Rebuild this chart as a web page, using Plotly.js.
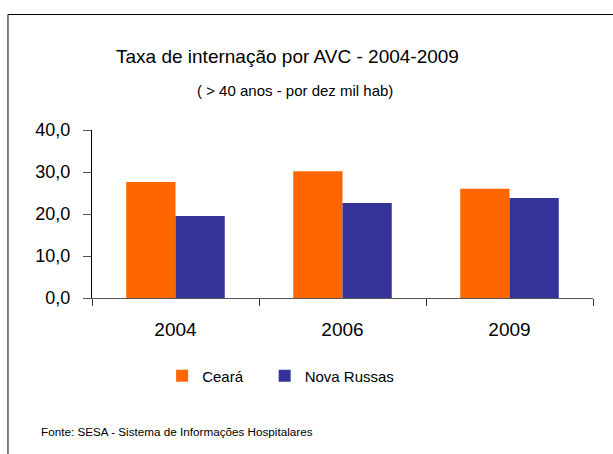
<!DOCTYPE html>
<html>
<head>
<meta charset="utf-8">
<script src="https://cdn.plot.ly/plotly-3.0.1.min.js"></script>
<style>
  body { margin: 0; background: #fff; }
  #grafico { width: 613px; height: 454px; }
</style>
</head>
<body>
<div id="grafico"></div>
<script>
// dados
const anos = ['2004', '2006', '2009'];
const ceara = [27.6, 30.2, 26.0];
const novaRussas = [19.5, 22.6, 23.8];
const series = ['Ceará', 'Nova Russas'];
const cores = ['#FF6600', '#333399'];

const titulo = 'Taxa de internação por AVC - 2004-2009';
const subtitulo = '( > 40 anos - por dez mil hab)';
const fonte = 'Fonte: SESA - Sistema de Informações Hospitalares';

const familia = 'Liberation Sans, Arial, sans-serif';
// espaço extra depois de "Ceará" para afastar a segunda entrada da legenda
const folga = '\u00a0\u00a0\u00a0\u00a0';

const traces = [ceara, novaRussas].map((valores, i) => ({
  type: 'bar',
  x: anos,
  y: valores,
  name: i === 0 ? series[i] + folga : series[i],
  marker: { color: cores[i] }
}));

const layout = {
  width: 613,
  height: 454,
  margin: { l: 92, r: 20, t: 130, b: 156 },
  paper_bgcolor: '#fff',
  plot_bgcolor: '#fff',
  font: { family: familia, color: '#000' },
  separators: ',.',
  bargap: 0.41,
  bargroupgap: 0,
  showlegend: true,
  hovermode: false,
  xaxis: {
    type: 'category',
    showgrid: false,
    showline: true,
    linecolor: '#555',
    linewidth: 1,
    ticks: 'outside',
    tickson: 'boundaries',
    ticklen: 7,
    tickcolor: '#333',
    tickfont: { size: 19, family: familia },
    ticklabelstandoff: 14
  },
  yaxis: {
    range: [0, 40],
    dtick: 10,
    tickformat: '.1f',
    showgrid: false,
    zeroline: false,
    showline: true,
    linecolor: '#000',
    linewidth: 1,
    ticks: 'outside',
    ticklen: 8,
    tickcolor: '#555',
    tickfont: { size: 18, family: familia },
    ticklabelstandoff: 9
  },
  legend: {
    orientation: 'h',
    x: 0.140,
    xanchor: 'left',
    y: -0.464,
    yanchor: 'middle',
    font: { size: 15, family: familia },
    tracegroupgap: 0
  },
  annotations: [
    { text: titulo, xref: 'paper', yref: 'paper', x: 0.391, y: 1.44, xanchor: 'center', yanchor: 'middle', showarrow: false, font: { size: 19 } },
    { text: subtitulo, xref: 'paper', yref: 'paper', x: 0.405, y: 1.238, xanchor: 'center', yanchor: 'middle', showarrow: false, font: { size: 15 } },
    { text: fonte, xref: 'paper', yref: 'paper', x: -0.106, y: -0.792, xanchor: 'left', yanchor: 'middle', showarrow: false, font: { size: 11.7 } }
  ],
  shapes: [
    { type: 'rect', xref: 'paper', yref: 'paper', x0: -0.1677, x1: 1.094, y0: -1.024, y1: 1.6875, line: { color: '#000', width: 1 } }
  ]
};

Plotly.newPlot('grafico', traces, layout, { displayModeBar: false, staticPlot: true });
</script>
</body>
</html>
